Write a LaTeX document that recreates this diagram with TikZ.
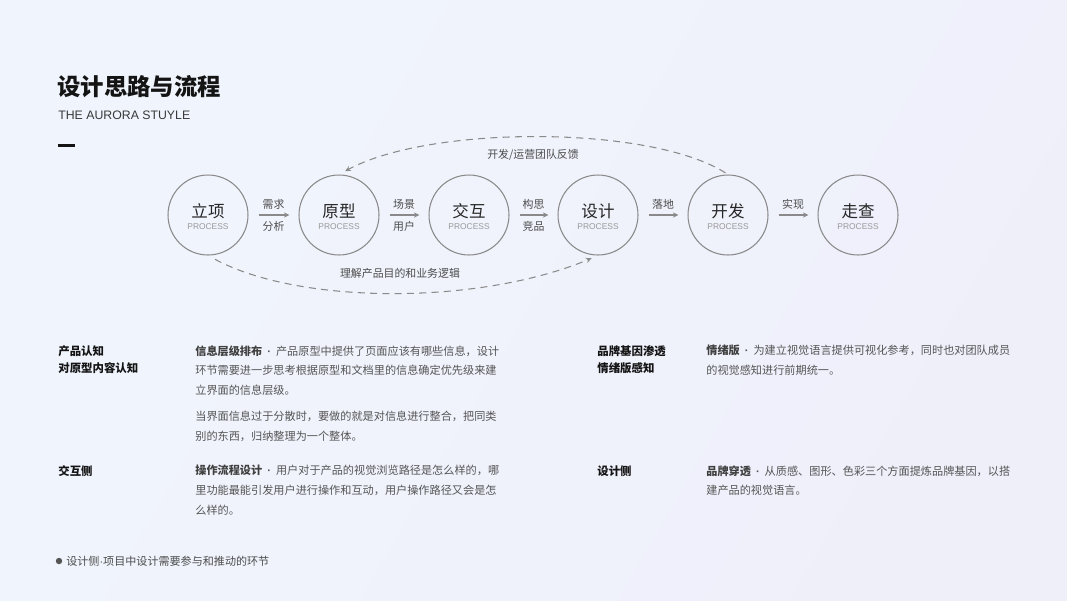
\documentclass[tikz,border=0pt]{standalone}
\usepackage{fontspec}
\setmainfont{Noto Sans CJK SC}
\newfontfamily\latin{Liberation Sans}
\usetikzlibrary{arrows.meta,positioning}
\definecolor{ink}{HTML}{141414}
\definecolor{txtgray}{HTML}{555555}
\definecolor{linegray}{HTML}{8A8A8A}
\definecolor{softgray}{HTML}{9A9A9A}
\definecolor{bgleft}{HTML}{F0F5FD}
\definecolor{bgright}{HTML}{EFEFFA}
\newcommand{\midsep}{\hspace{0.45em}{\latin\textbf{·}}\hspace{0.45em}}

\begin{document}
\begin{tikzpicture}[x=0.02cm, y=-0.02cm,
  proc/.style={circle, draw=linegray, line width=0.6pt, minimum size=1.6cm, inner sep=0pt},
  flow/.style={-{Stealth[length=3.2pt,width=3pt]}, linegray, line width=0.7pt, shorten <=0.2cm, shorten >=0.18cm},
  loop/.style={-{Stealth[length=3.2pt,width=3pt]}, linegray, line width=0.6pt, dash pattern=on 4pt off 3pt},
  steplab/.style={font=\fontsize{6.2}{7}\selectfont, text=black!70, inner sep=1pt},
  head/.style={anchor=north west, inner sep=0pt, align=left, text=ink, font=\fontsize{6.5}{9.9}\bfseries\selectfont},
  body/.style={anchor=north west, inner sep=0pt, align=left, text=txtgray, font=\fontsize{6.35}{11.3}\selectfont}]

\shade[left color=bgleft, right color=bgright, shading angle=60] (0,0) rectangle (1067,600);
\useasboundingbox (0,0) rectangle (1067,600);

\node[anchor=west, inner sep=0pt, text=ink, font=\fontsize{13.3}{15}\bfseries\selectfont] (title) at (57,87) {设计思路与流程};
\node[anchor=west, inner sep=0pt, text=black!78, font=\latin\fontsize{7}{8}\selectfont] (subtitle) at (58,115) {THE AURORA STUYLE};
\draw[ink, line width=1.7pt] (58,145) -- (75,145);

\foreach \name/\lab/\x in {lx/立项/208, yx/原型/339, jh/交互/469, sj/设计/598, kf/开发/728, zc/走查/858} {
  \node[proc] (\name) at (\x,215) {};
  \node[font=\fontsize{9.4}{10}\selectfont, text=black!85, inner sep=0pt] (\name-t) at (\x,211) {\lab};
  \node[font=\latin\fontsize{4.8}{5}\selectfont, text=softgray, inner sep=0pt] (\name-p) at (\x,227) {PROCESS};
}

\foreach \a/\b/\up/\dn in {lx/yx/需求/分析, yx/jh/场景/用户, jh/sj/构思/竞品} {
  \draw[flow] (\a) -- (\b) node[steplab, midway, above=2pt] {\up} node[steplab, midway, below=2pt] {\dn};
}
\foreach \a/\b/\up in {sj/kf/落地, kf/zc/实现} {
  \draw[flow] (\a) -- (\b) node[steplab, midway, above=2pt] {\up};
}

\draw[loop, shorten <=0.06cm, shorten >=0.14cm] (kf.north) .. controls (650,125) and (430,125) .. (yx.north);
\node[steplab] (fb) at (533,155) {开发/运营团队反馈};
\draw[loop, shorten <=0.16cm, shorten >=0.14cm] (lx.south) .. controls (300,305) and (480,305) .. (sj.south);
\node[steplab] (lj) at (400,273) {理解产品目的和业务逻辑};

\node[head] (h1) at (58,345) {产品认知\\对原型内容认知};
\node[body] (b1) at (195,345) {\textbf{\color{black!75}信息层级排布}\midsep 产品原型中提供了页面应该有哪些信息，设计\\环节需要进一步思考根据原型和文档里的信息确定优先级来建\\立界面的信息层级。};
\node[body] (b2) at (195,411) {当界面信息过于分散时，要做的就是对信息进行整合，把同类\\别的东西，归纳整理为一个整体。};

\node[head] (h2) at (58,465) {交互侧};
\node[body] (b3) at (195,465) {\textbf{\color{black!75}操作流程设计}\midsep 用户对于产品的视觉浏览路径是怎么样的，哪\\里功能最能引发用户进行操作和互动，用户操作路径又会是怎\\么样的。};

\node[head] (h3) at (597,345) {品牌基因渗透\\情绪版感知};
\node[body] (b4) at (706,345) {\textbf{\color{black!75}情绪版}\midsep 为建立视觉语言提供可视化参考，同时也对团队成员\\的视觉感知进行前期统一。};

\node[head] (h4) at (597,465) {设计侧};
\node[body] (b5) at (706,465) {\textbf{\color{black!75}品牌穿透}\midsep 从质感、图形、色彩三个方面提炼品牌基因，以搭\\建产品的视觉语言。};

\fill[txtgray] (59,561) circle (3.2);
\node[anchor=west, inner sep=0pt, text=black!70, font=\fontsize{6.3}{7}\selectfont] (note) at (66,561) {设计侧{\latin ·}项目中设计需要参与和推动的环节};
\end{tikzpicture}
\end{document}
